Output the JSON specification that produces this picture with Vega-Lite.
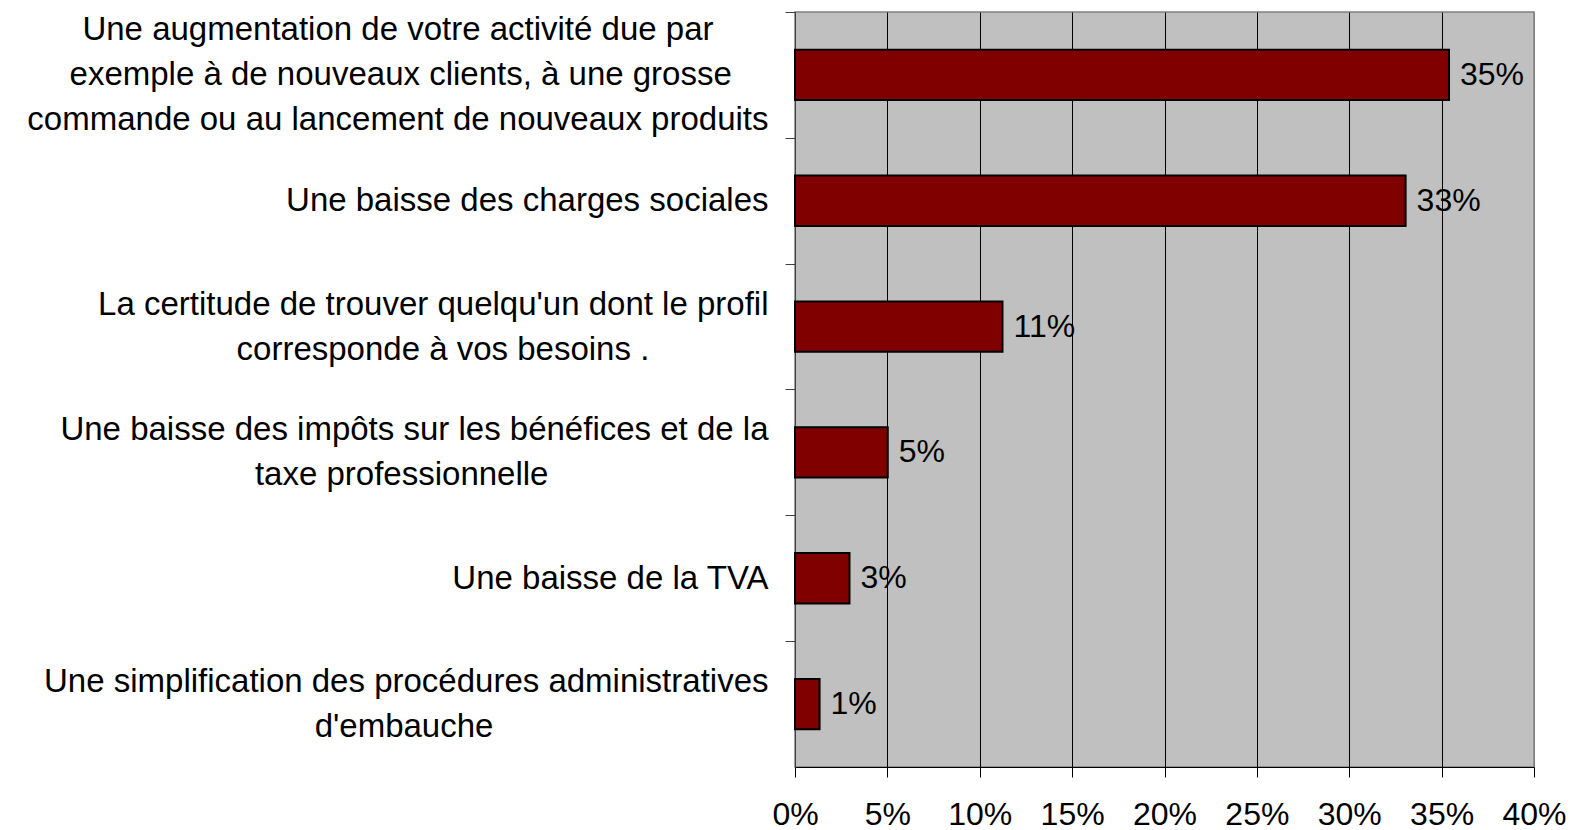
{
  "$schema": "https://vega.github.io/schema/vega-lite/v6.json",
  "width": 739,
  "height": 755,
  "autosize": {"type": "none"},
  "padding": {"left": 795, "top": 12, "right": 36, "bottom": 63},
  "background": "white",
  "config": {
    "font": "Liberation Sans",
    "view": {"fill": "#C0C0C0", "stroke": "#808080", "strokeWidth": 1.5}
  },
  "data": {
    "values": [
      {"label": "Une augmentation de votre activité due par\u00a0\u00a0\u00a0\u00a0\u00a0\u00a0\u2060|exemple à de nouveaux clients, à une grosse\u00a0\u00a0\u00a0\u00a0\u2060|commande ou au lancement de nouveaux produits", "share": 0.354},
      {"label": "Une baisse des charges sociales", "share": 0.3305},
      {"label": "La certitude de trouver quelqu'un dont le profil|corresponde à vos besoins .\u00a0\u00a0\u00a0\u00a0\u00a0\u00a0\u00a0\u00a0\u00a0\u00a0\u00a0\u00a0\u00a0\u2060", "share": 0.1123},
      {"label": "Une baisse des impôts sur les bénéfices et de la|taxe professionnelle\u00a0\u00a0\u00a0\u00a0\u00a0\u00a0\u00a0\u00a0\u00a0\u00a0\u00a0\u00a0\u00a0\u00a0\u00a0\u00a0\u00a0\u00a0\u00a0\u00a0\u00a0\u00a0\u00a0\u00a0\u2060", "share": 0.0502},
      {"label": "Une baisse de la TVA", "share": 0.0295},
      {"label": "Une simplification des procédures administratives|d'embauche\u00a0\u00a0\u00a0\u00a0\u00a0\u00a0\u00a0\u00a0\u00a0\u00a0\u00a0\u00a0\u00a0\u00a0\u00a0\u00a0\u00a0\u00a0\u00a0\u00a0\u00a0\u00a0\u00a0\u00a0\u00a0\u00a0\u00a0\u00a0\u00a0\u00a0\u2060", "share": 0.0133}
    ]
  },
  "encoding": {
    "y": {
      "field": "label",
      "type": "nominal",
      "sort": null,
      "scale": {"paddingInner": 0.6, "paddingOuter": 0.3},
      "axis": {
        "title": null,
        "tickOffset": -62.92,
        "labelOffset": 17.92,
        "tickSize": 10,
        "tickColor": "#404040",
        "domainColor": "#404040",
        "labelExpr": "length(split(datum.value,'|')) == 1 ? ['\u00a0\u2060', '\u00a0\u2060', datum.value] : length(split(datum.value,'|')) == 2 ? ['\u00a0\u2060', split(datum.value,'|')[0], '\u00a0\u2060', split(datum.value,'|')[1]] : [split(datum.value,'|')[0], '\u00a0\u2060', split(datum.value,'|')[1], '\u00a0\u2060', split(datum.value,'|')[2]]",
        "labelFontSize": 33,
        "labelColor": "#000000",
        "labelAlign": "right",
        "labelBaseline": "middle",
        "labelPadding": 17,
        "labelLineHeight": 22.5,
        "labelLimit": 0,
        "grid": false
      }
    },
    "x": {
      "field": "share",
      "type": "quantitative",
      "scale": {"domain": [0, 0.4], "nice": false},
      "axis": {
        "title": null,
        "format": ".0%",
        "values": [0, 0.05, 0.1, 0.15, 0.2, 0.25, 0.3, 0.35, 0.4],
        "tickSize": 10,
        "tickColor": "#000000",
        "domainColor": "#000000",
        "grid": true,
        "gridColor": {"condition": {"test": "datum.value >= 0.4", "value": "#808080"}, "value": "#000000"},
        "gridWidth": 1,
        "gridOpacity": 1,
        "labelFontSize": 32,
        "labelColor": "#000000",
        "labelPadding": 22,
        "labelFlush": false,
        "labelOverlap": false
      }
    }
  },
  "layer": [
    {"mark": {"type": "bar", "color": "#800000", "stroke": "#000000", "strokeWidth": 2}},
    {
      "mark": {"type": "text", "align": "left", "baseline": "middle", "dx": 11, "fontSize": 32, "color": "#000000"},
      "encoding": {"text": {"field": "share", "type": "quantitative", "format": ".0%"}}
    }
  ]
}
